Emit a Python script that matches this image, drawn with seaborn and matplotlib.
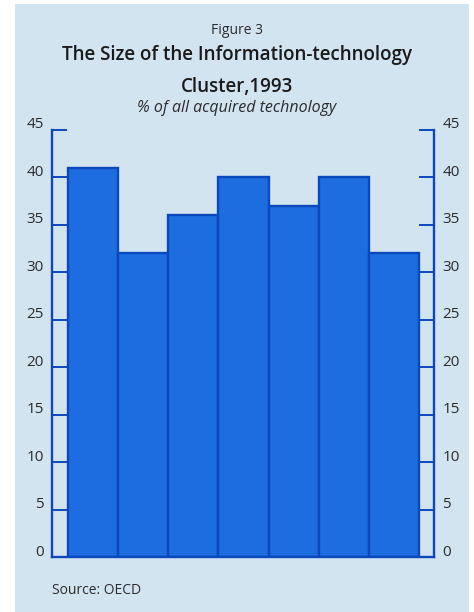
import matplotlib
matplotlib.use("Agg")
import matplotlib.pyplot as plt
import matplotlib.transforms as mtransforms
from matplotlib.patches import Rectangle
import seaborn as sns
import pandas as pd

# Share of all acquired technology going to the information-technology cluster
groups = ["1", "2", "3", "4", "5", "6", "7"]
shares = [41, 32, 36, 40, 37, 40, 32]
y_ticks = [0, 5, 10, 15, 20, 25, 30, 35, 40, 45]

title_top = "Figure 3"
title_line1 = "The Size of the Information-technology"
title_line2 = "Cluster,1993"
subtitle = "% of all acquired technology"
source = "Source: OECD"

sns.set_theme(style="white")
plt.rcParams["font.family"] = ["Open Sans", "DejaVu Sans"]

PANEL = "#d3e4f1"
BAR = "#1e6de0"
EDGE = "#0a48bb"
TEXT = "#2b2b2b"

W, H = 474, 612
fig = plt.figure(figsize=(W / 100, H / 100), dpi=100)
fig.patch.set_facecolor("white")
fig.patches.append(Rectangle((15 / W, 0), (469 - 15) / W, 1 - 4 / H,
                             transform=fig.transFigure, facecolor=PANEL,
                             edgecolor="none", zorder=-10))

ax = fig.add_axes([52 / W, 1 - 557 / H, (434 - 52) / W, (557 - 130) / H])
ax.set_facecolor("none")
ax.set_zorder(5)

df = pd.DataFrame({"group": groups, "share": shares})
sns.barplot(data=df, x="group", y="share", ax=ax, width=1.0, color=BAR,
            saturation=1, edgecolor=EDGE, linewidth=1.7)

ax.set_xlim(-0.82, 6.8)
ax.set_ylim(0, 45)
ax.set_xlabel("")
ax.set_ylabel("")
ax.set_xticks([])

for side in ["left", "right", "bottom"]:
    ax.spines[side].set_visible(True)
    ax.spines[side].set_color(EDGE)
    ax.spines[side].set_linewidth(1.7)
ax.spines["top"].set_visible(False)

ax.set_yticks(y_ticks)
ax.tick_params(axis="y", which="both", direction="in", length=11, width=1.4,
               color=EDGE, labelcolor=TEXT, labelsize=11, pad=6,
               left=True, right=True, labelleft=True, labelright=True)

# tick labels sit a little above their tick marks
lift = mtransforms.ScaledTranslation(0, 0.07, fig.dpi_scale_trans)
for t in ax.yaxis.get_major_ticks():
    t.label1.set_transform(t.label1.get_transform() + lift)
    t.label2.set_transform(t.label2.get_transform() + lift)

fig.text(0.5, 1 - 30 / H, title_top, ha="center", va="center",
         fontsize=10, color=TEXT)
fig.text(0.5, 1 - 55 / H, title_line1, ha="center", va="center",
         fontsize=13.5, fontweight="semibold", color="#1a1a1a")
fig.text(0.5, 1 - 87 / H, title_line2, ha="center", va="center",
         fontsize=13.5, fontweight="semibold", color="#1a1a1a")
fig.text(0.5, 1 - 108 / H, subtitle, ha="center", va="center",
         fontsize=11.5, style="italic", color=TEXT)
fig.text(52 / W, 1 - 590 / H, source, ha="left", va="center",
         fontsize=10, color=TEXT)

fig.savefig("out.png", dpi=100, facecolor=fig.get_facecolor())
